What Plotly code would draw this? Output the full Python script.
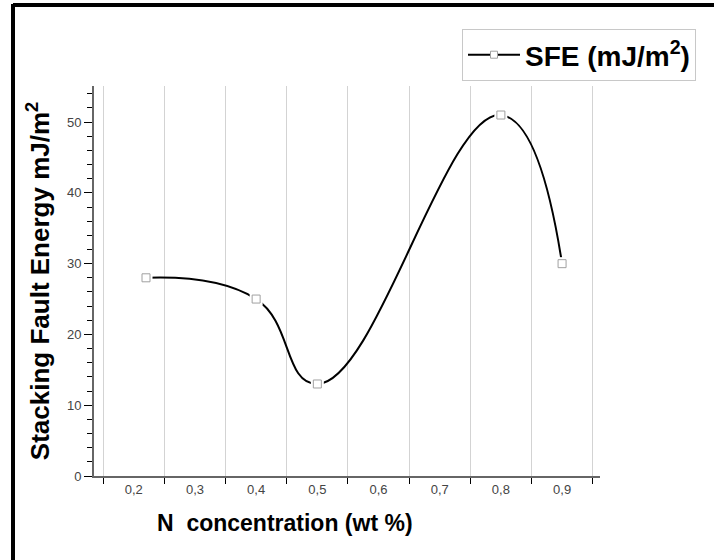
import plotly.graph_objects as go

# Data
n_conc = [0.22, 0.4, 0.5, 0.8, 0.9]
sfe = [28, 25, 13, 51, 30]
x_label_vals = [0.2, 0.3, 0.4, 0.5, 0.6, 0.7, 0.8, 0.9]
x_label_text = ["0,2", "0,3", "0,4", "0,5", "0,6", "0,7", "0,8", "0,9"]
y_tick_vals = [0, 10, 20, 30, 40, 50]

FONT = "Liberation Sans, Arial, sans-serif"

fig = go.Figure()
# curve
fig.add_trace(go.Scatter(x=n_conc, y=sfe, mode="lines",
                         line=dict(color="black", width=2, shape="spline", smoothing=1.3),
                         showlegend=False, hoverinfo="skip"))
# white halo to open small gaps around markers
fig.add_trace(go.Scatter(x=n_conc, y=sfe, mode="markers",
                         marker=dict(symbol="square", size=13, color="white", line=dict(width=0)),
                         showlegend=False, hoverinfo="skip"))
# markers
fig.add_trace(go.Scatter(x=n_conc, y=sfe, mode="markers",
                         marker=dict(symbol="square", size=8, color="white",
                                     line=dict(color="#a0a0a0", width=1)),
                         showlegend=False))
# legend entry
fig.add_trace(go.Scatter(x=[None], y=[None], mode="lines+markers",
                         name="SFE (mJ/m<sup>2</sup>)",
                         line=dict(color="black", width=2),
                         marker=dict(symbol="square", size=7, color="white",
                                     line=dict(color="#a0a0a0", width=1))))

L, R, T, B = 94, 114, 86, 84
pw = 714 - L - R
ph = 560 - T - B
def px(x):
    return (x - L) / pw
def py(y):
    return (560 - B - y) / ph

fig.update_layout(
    width=714, height=560,
    margin=dict(l=L, r=R, t=T, b=B),
    plot_bgcolor="white", paper_bgcolor="white",
    font=dict(family=FONT, color="#333"),
    xaxis=dict(range=[0.135, 0.962], tickmode="array", tickvals=x_label_vals,
               ticktext=x_label_text, ticks="", showgrid=False, zeroline=False,
               showline=True, linecolor="#666", linewidth=2,
               tickfont=dict(size=13, color="#444"),
               minor=dict(tickmode="linear", tick0=0.15, dtick=0.1, ticks="outside",
                          ticklen=6, tickwidth=1, tickcolor="black",
                          showgrid=True, gridcolor="#d3d3d3", gridwidth=1)),
    yaxis=dict(range=[0, 55.1], tickmode="array", tickvals=y_tick_vals,
               ticks="outside", ticklen=8, tickwidth=1, tickcolor="black",
               showgrid=False, zeroline=False, showline=True, linecolor="#666",
               linewidth=2, tickfont=dict(size=13, color="#444"),
               title=dict(text="Stacking Fault Energy mJ/m<sup>2</sup>",
                          font=dict(size=26, color="black", family=FONT, weight="bold"),
                          standoff=10),
               minor=dict(tickmode="linear", tick0=0, dtick=2, ticks="outside",
                          ticklen=5, tickwidth=1, tickcolor="black", showgrid=False)),
    legend=dict(x=px(462), y=py(29),
                xanchor="left", yanchor="top",
                bordercolor="#c8c8c8", borderwidth=1, bgcolor="white",
                font=dict(size=28, color="black", family=FONT, weight="bold"),
                itemwidth=52),
    showlegend=True,
)

fig.add_annotation(text="N  concentration (wt %)", xref="paper", yref="paper",
                   x=px(285), y=py(523), xanchor="center", yanchor="middle", showarrow=False,
                   font=dict(size=23, color="black", family=FONT, weight="bold"))

# outer frame lines (left and top)
fig.add_shape(type="line", xref="paper", yref="paper", x0=px(13), x1=px(714), y0=py(5), y1=py(5),
              line=dict(color="black", width=4))
fig.add_shape(type="line", xref="paper", yref="paper", x0=px(13), x1=px(13), y0=py(4), y1=py(560),
              line=dict(color="black", width=4))

fig.write_html("out.html")
